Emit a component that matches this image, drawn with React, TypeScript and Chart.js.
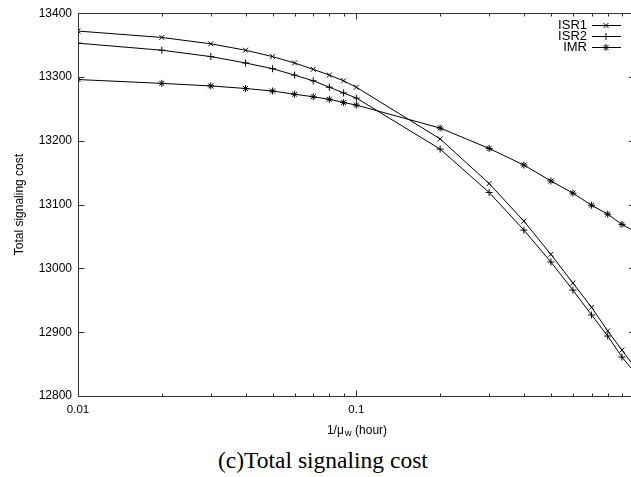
import React, { useEffect, useRef } from 'react';
import { Chart, registerables } from 'chart.js';
import { drawPoint } from 'chart.js/helpers';

Chart.register(...registerables);

const xValues = [0.01, 0.02, 0.03, 0.04, 0.05, 0.06, 0.07, 0.08, 0.09, 0.1, 0.2, 0.3, 0.4, 0.5, 0.6, 0.7, 0.8, 0.9, 1.0];
const isr1 = [13372, 13362, 13352, 13342, 13332, 13322, 13312, 13303, 13294, 13284, 13203, 13133, 13074, 13022, 12977, 12939, 12902, 12872, 12845];
const isr2 = [13353, 13342, 13332, 13322, 13313, 13303, 13294, 13284, 13275, 13267, 13187, 13119, 13060, 13010, 12966, 12927, 12894, 12861, 12837];
const imr = [13296, 13290, 13286, 13282, 13278, 13273, 13269, 13265, 13260, 13256, 13220, 13188, 13162, 13137, 13118, 13099, 13085, 13069, 13058];
const seriesLabels = ['ISR1', 'ISR2', 'IMR'];
const seriesMarkers = ['crossRot', 'cross', 'star'];
const xTickLabels = [0.01, 0.1];
const xMinorTicks = [0.02, 0.03, 0.04, 0.05, 0.06, 0.07, 0.08, 0.09, 0.2, 0.3, 0.4, 0.5, 0.6, 0.7, 0.8, 0.9];
const yTickValues = [12800, 12900, 13000, 13100, 13200, 13300, 13400];

const FONT = "'Liberation Sans', Arial, Helvetica, sans-serif";

const framePlugin = {
  id: 'frame',
  afterDraw(chart: any) {
    const { ctx, chartArea } = chart;
    const { left, right, top, bottom } = chartArea;
    const xs = chart.scales.x;
    const ys = chart.scales.y;
    const L = Math.round(left) + 0.5;
    const T = Math.round(top) + 0.5;
    const B = Math.round(bottom) + 0.5;
    ctx.save();
    ctx.strokeStyle = '#333';
    ctx.lineWidth = 1;
    ctx.beginPath();
    ctx.moveTo(right + 5, T);
    ctx.lineTo(L, T);
    ctx.lineTo(L, B);
    ctx.lineTo(right + 5, B);
    const drawX = (v: number, len: number) => {
      const px = Math.round(xs.getPixelForValue(v)) + 0.5;
      ctx.moveTo(px, B);
      ctx.lineTo(px, B - len);
      ctx.moveTo(px, T);
      ctx.lineTo(px, T + len);
    };
    xTickLabels.forEach((v) => drawX(v, 6));
    xMinorTicks.forEach((v) => drawX(v, 3));
    yTickValues.forEach((v) => {
      const py = Math.round(ys.getPixelForValue(v)) + 0.5;
      ctx.moveTo(L, py);
      ctx.lineTo(L + 6, py);
      ctx.moveTo(right, py);
      ctx.lineTo(right - 2, py);
    });
    ctx.stroke();

    // legend (top right, text then sample)
    ctx.strokeStyle = '#000';
    ctx.font = `13px ${FONT}`;
    ctx.fillStyle = '#000';
    ctx.textAlign = 'right';
    ctx.textBaseline = 'middle';
    chart.data.datasets.forEach((ds: any, i: number) => {
      const yy = Math.round(top + 12 + i * 11) + 0.5;
      ctx.fillText(ds.label, right - 44, yy);
      ctx.beginPath();
      ctx.moveTo(right - 39, yy);
      ctx.lineTo(right - 10, yy);
      ctx.stroke();
      drawPoint(ctx, { pointStyle: ds.pointStyle, radius: 3.5, borderWidth: 1, rotation: 0 } as any, right - 25, yy);
    });

    // x axis title with subscript
    const cx = left + 279;
    const base = bottom + 37.5;
    const p1 = '1/\u03bc';
    const p2 = 'w';
    const p3 = ' (hour)';
    ctx.font = `12px ${FONT}`;
    const w1 = ctx.measureText(p1).width;
    const w3 = ctx.measureText(p3).width;
    ctx.font = `9.5px ${FONT}`;
    const w2 = ctx.measureText(p2).width;
    let sx = cx - (w1 + 1 + w2 + w3) / 2;
    ctx.textAlign = 'left';
    ctx.textBaseline = 'alphabetic';
    ctx.font = `12px ${FONT}`;
    ctx.fillText(p1, sx, base);
    sx += w1 + 1;
    ctx.font = `9.5px ${FONT}`;
    ctx.fillText(p2, sx, base + 2);
    sx += w2;
    ctx.font = `12px ${FONT}`;
    ctx.fillText(p3, sx, base);
    ctx.restore();
  },
};

export default function App() {
  const ref = useRef<HTMLCanvasElement | null>(null);
  useEffect(() => {
    document.body.style.margin = '0';
    if (!ref.current) return;
    const mk = (label: string, vals: number[], marker: string) => ({
      label,
      data: xValues.map((x, i) => ({ x, y: vals[i] })),
      borderColor: '#000',
      borderWidth: 1,
      backgroundColor: 'transparent',
      pointStyle: marker,
      pointRadius: 3.5,
      pointBorderWidth: 1,
      pointBorderColor: '#000',
      pointBackgroundColor: 'transparent',
      fill: false,
      tension: 0,
    });
    const chart = new Chart(ref.current, {
      type: 'line',
      data: {
        datasets: [
          mk(seriesLabels[0], isr1, seriesMarkers[0]),
          mk(seriesLabels[1], isr2, seriesMarkers[1]),
          mk(seriesLabels[2], imr, seriesMarkers[2]),
        ],
      },
      options: {
        responsive: false,
        animation: false,
        layout: { autoPadding: false, padding: { top: 13, left: 0, right: 0, bottom: 0 } },
        plugins: { legend: { display: false }, tooltip: { enabled: false } },
        scales: {
          x: {
            type: 'logarithmic',
            min: 0.01,
            max: 0.97,
            grid: { display: false, drawTicks: false },
            border: { display: false },
            afterBuildTicks: (s: any) => {
              s.ticks = xTickLabels.map((v) => ({ value: v }));
            },
            afterFit: (s: any) => {
              s.height = 44;
            },
            ticks: {
              autoSkip: false,
              maxRotation: 0,
              padding: 7,
              color: '#000',
              font: { family: FONT, size: 11.5 },
              callback: (v: any) => String(v),
            },
          },
          y: {
            min: 12800,
            max: 13400,
            grid: { display: false, drawTicks: false },
            border: { display: false },
            afterFit: (s: any) => {
              s.width = 78;
            },
            ticks: {
              stepSize: 100,
              padding: 6,
              color: '#000',
              font: { family: FONT, size: 12 },
              callback: (v: any) => String(v),
            },
            title: {
              display: true,
              text: 'Total signaling cost',
              color: '#000',
              font: { family: FONT, size: 12 },
              padding: { top: 12, bottom: 0 },
            },
          },
        },
      } as any,
      plugins: [framePlugin],
    });
    return () => chart.destroy();
  }, []);
  return (
    <div style={{ position: 'relative', width: 631, height: 477, background: '#fff', overflow: 'hidden' }}>
      <canvas ref={ref} width={631} height={440} style={{ display: 'block' }} />
      <div
        style={{
          position: 'absolute',
          left: 218,
          top: 447,
          fontFamily: "'Liberation Serif', 'Times New Roman', serif",
          fontSize: 23.5,
          lineHeight: '26px',
          color: '#000',
          whiteSpace: 'nowrap',
        }}
      >
        (c)Total signaling cost
      </div>
    </div>
  );
}
